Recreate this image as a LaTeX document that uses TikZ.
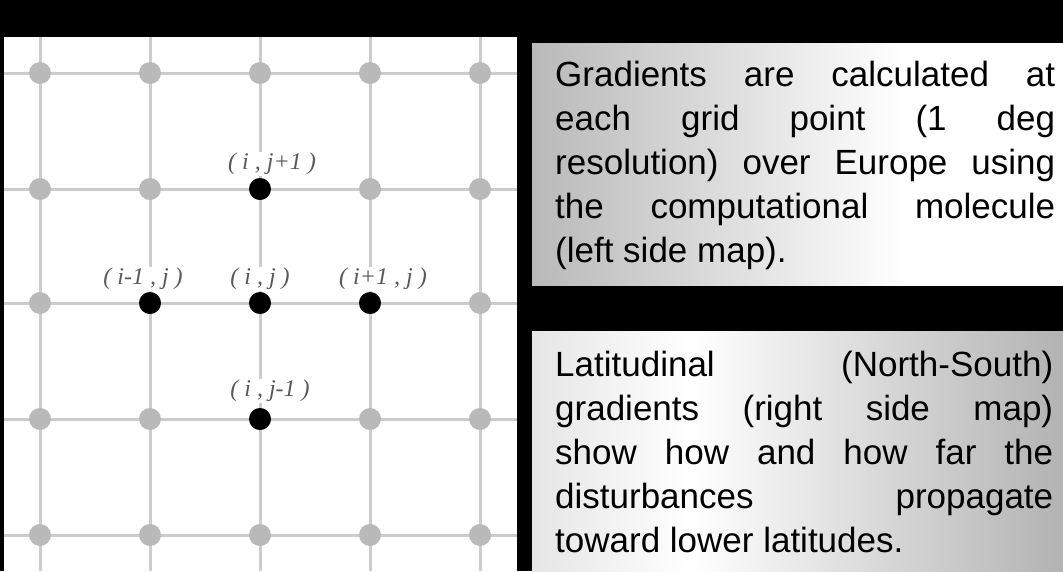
\documentclass[tikz,border=0pt]{standalone}
\usepackage{fontspec}
\setmainfont{Liberation Sans}
\newfontfamily\lblfont{Liberation Serif}
\usetikzlibrary{positioning}

\pgfdeclarehorizontalshading{upperfade}{100bp}{color(0bp)=(gray!55); color(25bp)=(gray!55); color(60bp)=(white); color(100bp)=(white)}
\pgfdeclarehorizontalshading{lowerfade}{100bp}{color(0bp)=(gray!20); color(25bp)=(gray!20); color(40bp)=(white); color(75bp)=(gray!60); color(100bp)=(gray!60)}
\newcommand{\gsp}{\hspace{6pt}}

\begin{document}
\begin{tikzpicture}[
  x=1pt, y=-1pt,
  gridline/.style = {draw=gray!40, line width=3pt},
  gpt/.style = {circle, fill=gray!55, inner sep=0pt, minimum size=22pt},
  bdot/.style = {circle, fill=black, inner sep=0pt, minimum size=22pt},
  lbl/.style = {fill=white, inner sep=1pt, text=black!65, font=\lblfont\itshape\fontsize{24}{24}\selectfont},
  panel/.style = {anchor=north west, inner sep=0pt, minimum width=531pt},
  txtbox/.style = {anchor=base west, inner sep=0pt, align=justify, font=\fontsize{35}{44}\selectfont}
  ]
  \useasboundingbox (0,0) rectangle (1063,571);
  \fill[black] (0,0) rectangle (1063,571);
  % left map
  \fill[white] (4,37) rectangle (517,571);
  \foreach \x in {40,150,260,370,480}
    \draw[gridline] (\x,37) -- (\x,571);
  \foreach \y in {73,189,303,419,535}
    \draw[gridline] (4,\y) -- (517,\y);
  \foreach \c/\x in {1/40,2/150,3/260,4/370,5/480}
    \foreach \r/\y in {1/73,2/189,3/303,4/419,5/535}
      \node[gpt] (g\c\r) at (\x,\y) {};
  \node[bdot] (up) at (g32) {};
  \node[bdot] (left) at (g23) {};
  \node[bdot] (mid) at (g33) {};
  \node[bdot] (right) at (g43) {};
  \node[bdot] (down) at (g34) {};
  \node[lbl, above=2pt of up, xshift=12pt] (uplbl) {(\gsp i\gsp,\gsp j+1\gsp)};
  \node[lbl, above=1pt of left, xshift=-7pt] (leftlbl) {(\gsp i-1\gsp,\gsp j\gsp)};
  \node[lbl, above=1pt of mid] (midlbl) {(\gsp i\gsp,\gsp j\gsp)};
  \node[lbl, above=1pt of right, xshift=13pt] (rightlbl) {(\gsp i+1\gsp,\gsp j\gsp)};
  \node[lbl, above=5pt of down, xshift=10pt] (downlbl) {(\gsp i\gsp,\gsp j-1\gsp)};
  % text panels
  \node[panel, shading=upperfade, minimum height=242pt] (upperbox) at (532,43) {};
  \node[panel, shading=lowerfade, minimum height=240pt] (lowerbox) at (532,331) {};
  \node[txtbox, text width=500pt] (uppertext) at (555,86.7)
    {Gradients are calculated at\linebreak each grid point (1 deg\linebreak resolution) over Europe using\linebreak the computational molecule\linebreak (left side map).};
  \node[txtbox, text width=498pt] (lowertext) at (555,376.7)
    {Latitudinal (North-South)\linebreak gradients (right side map)\linebreak show how and how far the\linebreak disturbances propagate\linebreak toward lower latitudes.};
\end{tikzpicture}
\end{document}
